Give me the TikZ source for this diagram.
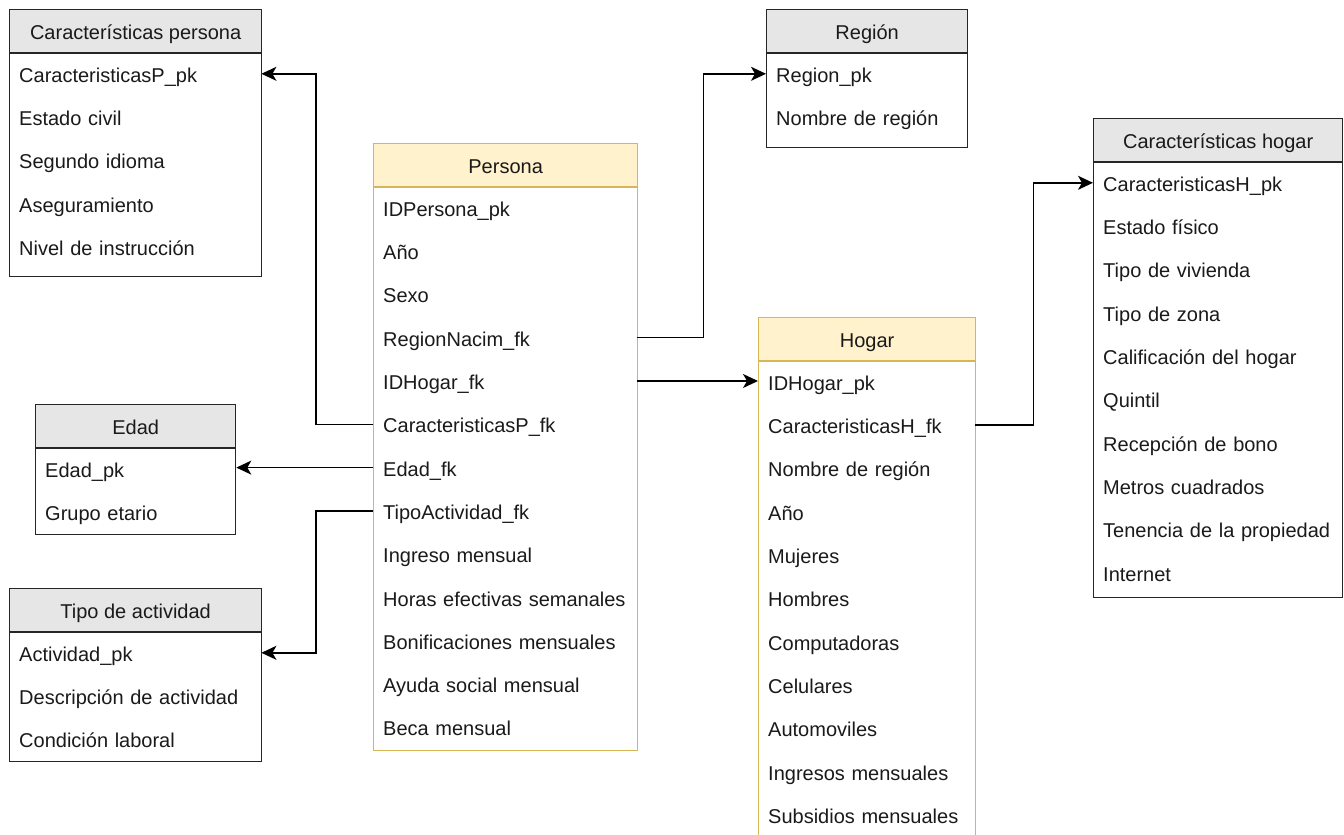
\documentclass[tikz,border=0pt]{standalone}
\usepackage{fontspec}
\setmainfont{Liberation Sans}
\usetikzlibrary{arrows.meta}
\definecolor{ylfill}{HTML}{FFF2CC}
\definecolor{ylline}{HTML}{D6B656}
\definecolor{gyfill}{HTML}{E6E6E6}
\definecolor{gyline}{HTML}{262626}
\definecolor{txt}{HTML}{1A1A1A}
\tikzset{
  graybody/.style={draw=gyline, fill=white, line width=1.3pt, inner sep=0pt},
  grayhead/.style={draw=gyline, fill=gyfill, line width=1.3pt, inner sep=0pt, text=txt, text height=20pt, text depth=3pt, font=\fontsize{20}{24}\selectfont},
  yellowbody/.style={draw=ylline, fill=white, line width=1.3pt, inner sep=0pt},
  yellowhead/.style={draw=ylline, fill=ylfill, line width=1.3pt, inner sep=0pt, text=txt, text height=20pt, text depth=3pt, font=\fontsize{20}{24}\selectfont},
  rowtxt/.style={inner xsep=10pt, inner ysep=0pt, minimum height=43.3pt, text height=20pt, text depth=3pt, align=left, text=txt, font=\fontsize{20}{24}\selectfont},
  conn/.style={draw=black, line width=1.4pt, -{Stealth[length=15pt,width=14pt,inset=4pt]}},
}
\newcommand{\entity}[8]{%
  \node[#6body, minimum width=#4, minimum height=#5, anchor=north west] (#1) at (#2,#3) {};
  \node[#6head, minimum width=#4, minimum height=43.2, anchor=north west] (#1-h) at (#2,#3) {#7};
  \pgfmathsetmacro\entw{#4-20}
  \foreach \t [count=\i] in {#8}
    \node[rowtxt, text width=\entw pt, anchor=west] (#1-\i) at ({#2},{#3+43.2+21.6+(\i-1)*43.3}) {\t};
}
\begin{document}
\begin{tikzpicture}[x=1pt,y=-1pt]
\useasboundingbox (0,0) rectangle (1344,835);
\entity{cp}{9}{9}{252}{267}{gray}{Características persona}{CaracteristicasP\_pk,Estado civil,Segundo idioma,Aseguramiento,Nivel de instrucción}
\entity{reg}{766}{9}{201}{138}{gray}{Región}{Region\_pk,Nombre de región}
\entity{per}{373}{143}{264}{607}{yellow}{Persona}{IDPersona\_pk,Año,Sexo,RegionNacim\_fk,IDHogar\_fk,CaracteristicasP\_fk,Edad\_fk,TipoActividad\_fk,Ingreso mensual,Horas efectivas semanales,Bonificaciones mensuales,Ayuda social mensual,Beca mensual}
\entity{ch}{1093}{118}{249}{479}{gray}{Características hogar}{CaracteristicasH\_pk,Estado físico,Tipo de vivienda,Tipo de zona,Calificación del hogar,Quintil,Recepción de bono,Metros cuadrados,Tenencia de la propiedad,Internet}
\entity{hog}{758}{317}{217}{535}{yellow}{Hogar}{IDHogar\_pk,CaracteristicasH\_fk,Nombre de región,Año,Mujeres,Hombres,Computadoras,Celulares,Automoviles,Ingresos mensuales,Subsidios mensuales}
\entity{edad}{35}{404}{200}{130}{gray}{Edad}{Edad\_pk,Grupo etario}
\entity{ta}{9}{588}{252}{173}{gray}{Tipo de actividad}{Actividad\_pk,Descripción de actividad,Condición laboral}
% connectors
\draw[conn] (per-6.west) -- ++(-57,0) |- (cp-1.east);
\draw[conn] (per-7.west) -- (per-7.west -| edad.east);
\draw[conn] (per-8.west) -- ++(-57,0) |- (ta-1.east);
\draw[conn] (per-4.east) -- ++(66,0) |- (reg-1.west);
\draw[conn] (per-5.east) -- (per-5.east -| hog.west);
\draw[conn] (hog-2.east) -- ++(58,0) |- (ch-1.west);
\end{tikzpicture}
\end{document}
